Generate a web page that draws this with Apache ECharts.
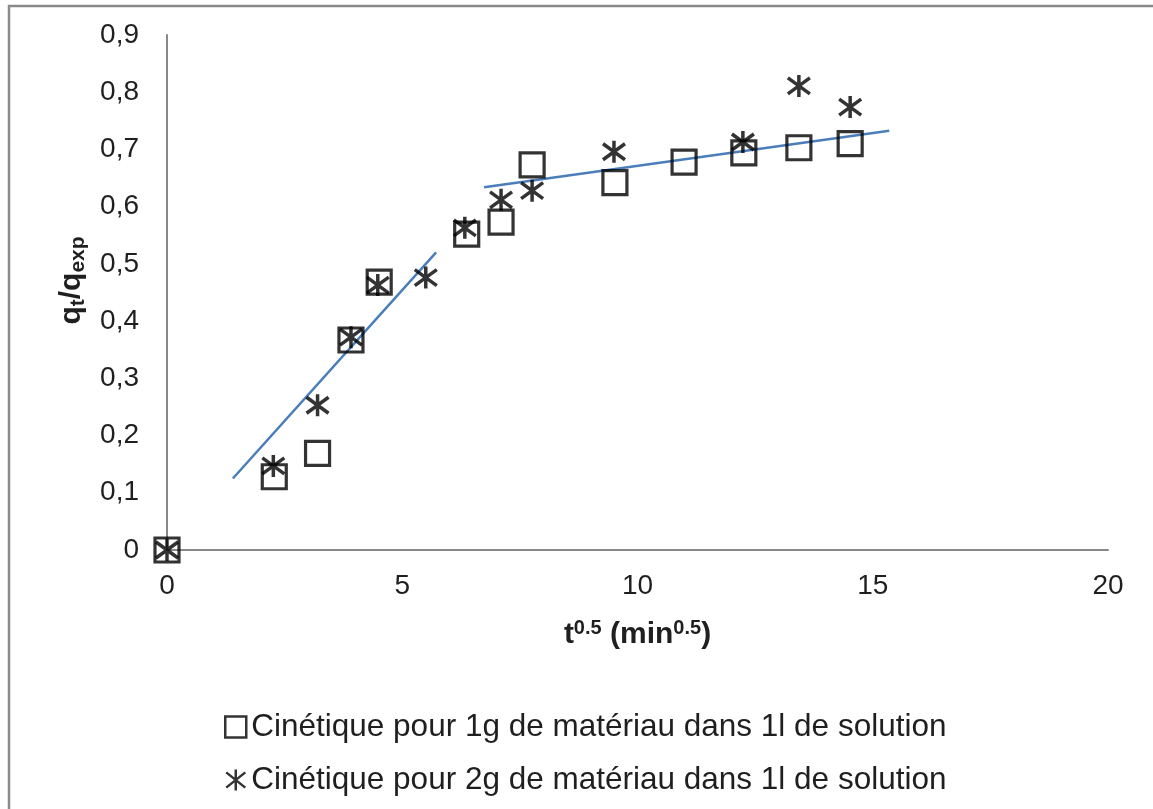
<!DOCTYPE html>
<html>
<head>
<meta charset="utf-8">
<script src="https://cdn.jsdelivr.net/npm/echarts@6/dist/echarts.min.js"></script>
<style>
html,body{margin:0;padding:0;background:#fff;}
#chart{width:1153px;height:809px;}
</style>
</head>
<body>
<div id="chart"></div>
<script>
// Series 1: 1 g of material (squares)
var x1 = [0, 2.28, 3.20, 3.91, 4.51, 6.37, 7.10, 7.76, 9.52, 10.99, 12.26, 13.43, 14.52];
var y1 = [0, 0.128, 0.169, 0.367, 0.468, 0.552, 0.573, 0.673, 0.642, 0.678, 0.694, 0.703, 0.710];
// Series 2: 2 g of material (stars)
var x2 = [0, 2.26, 3.20, 3.91, 4.48, 5.50, 6.33, 7.10, 7.76, 9.50, 12.24, 13.43, 14.52];
var y2 = [0, 0.147, 0.253, 0.372, 0.463, 0.476, 0.563, 0.612, 0.628, 0.696, 0.713, 0.811, 0.774];
// Trend lines (end points)
var trend1X = [1.40, 5.72];
var trend1Y = [0.125, 0.520];
var trend2X = [6.74, 15.35];
var trend2Y = [0.634, 0.7325];

var seriesNames = [
  'Cinétique pour 1g de matériau dans 1l de solution',
  'Cinétique pour 2g de matériau dans 1l de solution'
];
var xTicks = {min: 0, max: 20, interval: 5};
var yTicks = {min: 0, max: 0.9, interval: 0.1};

function zip(a, b) { return a.map(function (v, i) { return [v, b[i]]; }); }

var FONT = 'Liberation Sans';
var TXT = '#1f1f1f';
var AX = '#898989';
var starPath = 'path://M11,0L11,22M1,3L21,19M1,19L21,3';

var chart = echarts.init(document.getElementById('chart'));
chart.setOption({
  backgroundColor: '#fff',
  animation: false,
  textStyle: {fontFamily: FONT},
  graphic: [{
    type: 'rect',
    shape: {x: 9, y: 6, width: 1300, height: 1000},
    style: {fill: 'none', stroke: '#8a8a8a', lineWidth: 2.5},
    silent: true
  }],
  grid: {left: 167, right: 45, top: 35, bottom: 259, containLabel: false},
  xAxis: {
    type: 'value', min: xTicks.min, max: xTicks.max, interval: xTicks.interval,
    axisLine: {show: true, lineStyle: {color: AX, width: 2}},
    axisTick: {show: false},
    splitLine: {show: false},
    axisLabel: {fontSize: 28, color: TXT, fontFamily: FONT, margin: 22},
    name: '{b|t}{s|0.5}{b| (min}{s|0.5}{b|)}',
    nameLocation: 'middle',
    nameGap: 68,
    nameTextStyle: {
      rich: {
        b: {fontSize: 30, fontWeight: 'bold', color: TXT, fontFamily: FONT, lineHeight: 34, verticalAlign: 'middle'},
        s: {fontSize: 20, fontWeight: 'bold', color: TXT, fontFamily: FONT, lineHeight: 20, verticalAlign: 'top'}
      }
    }
  },
  yAxis: {
    type: 'value', min: yTicks.min, max: yTicks.max, interval: yTicks.interval,
    axisLine: {show: true, lineStyle: {color: AX, width: 2}},
    axisTick: {show: false},
    splitLine: {show: false},
    axisLabel: {
      fontSize: 28, color: TXT, fontFamily: FONT, margin: 28,
      formatter: function (v) { return v === 0 ? '0' : v.toFixed(1).replace('.', ','); }
    },
    name: '{b|q}{s|t}{b|/q}{s|exp}',
    nameLocation: 'middle',
    nameRotate: 90,
    nameGap: 76,
    nameTextStyle: {
      padding: [0, 0, 0, 24],
      rich: {
        b: {fontSize: 30, fontWeight: 'bold', color: TXT, fontFamily: FONT, lineHeight: 34, verticalAlign: 'middle'},
        s: {fontSize: 21, fontWeight: 'bold', color: TXT, fontFamily: FONT, lineHeight: 21, verticalAlign: 'bottom'}
      }
    }
  },
  legend: {
    data: seriesNames,
    orient: 'vertical',
    left: 219,
    top: 706,
    itemWidth: 21,
    itemHeight: 21,
    itemGap: 21,
    textStyle: {fontSize: 31.5, color: TXT, fontFamily: FONT, lineHeight: 32},
    itemStyle: {color: 'transparent', borderColor: '#000', borderWidth: 2.5}
  },
  series: [
    {
      type: 'line', data: zip(trend1X, trend1Y), showSymbol: false, silent: true,
      lineStyle: {color: '#4a7ebb', width: 2.5}, z: 1
    },
    {
      type: 'line', data: zip(trend2X, trend2Y), showSymbol: false, silent: true,
      lineStyle: {color: '#4a7ebb', width: 2.5}, z: 1
    },
    {
      name: seriesNames[0], type: 'scatter', data: zip(x1, y1),
      symbol: 'rect', symbolSize: 24,
      itemStyle: {color: 'transparent', borderColor: '#000', borderWidth: 3.2}, z: 3
    },
    {
      name: seriesNames[1], type: 'scatter', data: zip(x2, y2),
      symbol: starPath, symbolSize: [22, 22],
      itemStyle: {color: 'transparent', borderColor: '#000', borderWidth: 3.5}, z: 4
    }
  ]
});
</script>
</body>
</html>
